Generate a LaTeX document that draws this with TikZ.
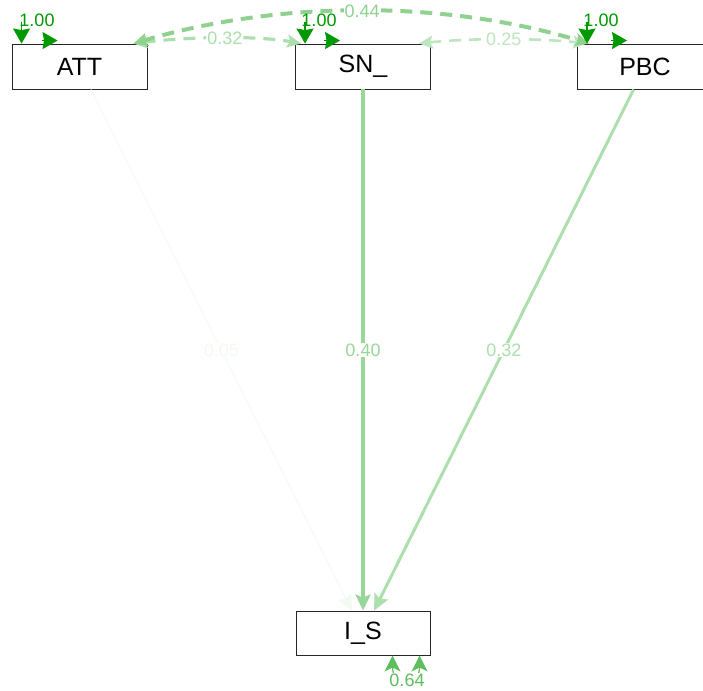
\documentclass[tikz,border=0pt]{standalone}
\usepackage{fontspec}
\setmainfont{Liberation Sans}
\usetikzlibrary{arrows.meta,calc}
\definecolor{pc}{RGB}{0,153,0}
\begin{document}
\begin{tikzpicture}[x=1pt,y=-1pt,
  box/.style={draw=black!85, line width=0.9pt, minimum width=135pt, minimum height=45pt, inner sep=0pt, font=\fontsize{25}{29}\selectfont},
  elab/.style={fill=white, inner sep=1pt, font=\fontsize{18}{21}\selectfont},
  rlab/.style={inner sep=0pt, font=\fontsize{18}{21}\selectfont},
  reg/.style={-{Stealth[length=16pt,width=15pt,inset=3pt]}},
  cov/.style={dash pattern=on 12pt off 8pt, {Stealth[length=14pt,width=13pt,inset=3pt]}-{Stealth[length=14pt,width=13pt,inset=3pt]}},
  restip/.style={line width=1.2pt, pc, -{Stealth[length=15pt,width=17pt,inset=1.5pt]}},
  resloopb/.style={line width=1.2pt, {Stealth[length=16pt,width=16pt,inset=4pt]}-{Stealth[length=16pt,width=16pt,inset=4pt]}}
]
\useasboundingbox (0,0) rectangle (703,690);

% nodes
\node[box] (ATT) at (79.5,66.5) {ATT};
\node[box] (SN)  at (363,66.5) {SN\_};
\node[box] (PBC) at (645,66.5) {PBC};
\node[box, minimum width=134pt, minimum height=44pt] (IS) at (363,633) {I\_S};

% regressions
\draw[reg, line width=1pt, pc!5!white] (ATT) -- (IS) node[elab, midway, text=pc!5!white] (l1) {0.05};
\draw[reg, line width=3.5pt, pc!40!white] (SN) -- (IS) node[elab, midway, text=pc!40!white] (l2) {0.40};
\draw[reg, line width=3pt, pc!32!white] (PBC) -- (IS) node[elab, midway, text=pc!32!white] (l3) {0.32};

% covariances
\draw[cov, line width=2.6pt, pc!25!white] ([xshift=-12pt]SN.north east) .. controls (470,38) and (538,38) .. ([xshift=10pt]PBC.north west)
  node[elab, pos=0.5, text=pc!25!white] (l6) {0.25};
\draw[cov, line width=3.2pt, pc!32!white] ([xshift=-14pt]ATT.north east) .. controls (195,36) and (260,36) .. ([xshift=6pt]SN.north west)
  node[elab, pos=0.5, text=pc!32!white] (l5) {0.32};
\draw[cov, line width=4pt, pc!44!white] ([xshift=-14pt]ATT.north east) .. controls (280,0) and (445,0) .. ([xshift=12pt]PBC.north west)
  node[elab, pos=0.5, text=pc!44!white] (l4) {0.44};

% residual loops (arrowheads, arc hidden behind label)
\foreach \n/\a/\b in {ATT/10/33, SN/10/32, PBC/10/37}{
  \draw[restip] ([xshift=\a pt,yshift=22pt]\n.north west) -- ([xshift=\a pt]\n.north west);
  \draw[restip] ([xshift=\b pt - 3pt,yshift=3pt]\n.north west) -- ([xshift=\b pt + 13pt,yshift=3pt]\n.north west);
}
\node[rlab, text=pc] (r1) at (37,20) {1.00};
\node[rlab, text=pc] (r2) at (319,20) {1.00};
\node[rlab, text=pc] (r3) at (601,20) {1.00};

\draw[resloopb, pc!64!white] ([xshift=97pt]IS.south west) .. controls +(0,32) and +(0,32) .. ([xshift=124pt]IS.south west);
\node[elab, text=pc!64!white, inner sep=0.5pt] (r4) at (407,680) {0.64};
\end{tikzpicture}
\end{document}
